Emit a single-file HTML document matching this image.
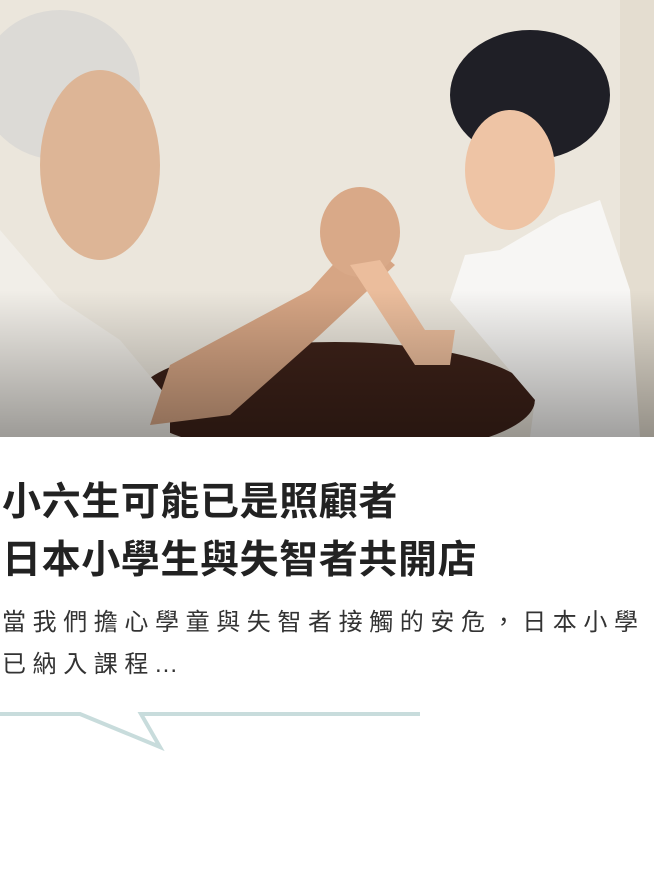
<!DOCTYPE html>
<html><head><meta charset="utf-8">
<style>
html,body{margin:0;padding:0;background:#fff;width:654px;height:870px;overflow:hidden}
.photo{position:absolute;left:0;top:0;width:654px;height:437px}
.title{position:absolute;left:2px;top:474px;margin:0;font-family:"Liberation Sans","Noto Sans CJK TC",sans-serif;font-weight:bold;font-size:39px;line-height:58px;letter-spacing:0.6px;color:#222}
.desc{position:absolute;left:2px;top:602px;margin:0;font-family:"Liberation Sans","Noto Sans CJK TC",sans-serif;font-size:24px;line-height:42px;letter-spacing:6.6px;color:#333;width:680px}
.bubble{position:absolute;left:0;top:700px}
</style></head><body>
<svg class="photo" viewBox="0 0 654 437" width="654" height="437">
<defs>
<linearGradient id="sh" x1="0" y1="0" x2="0" y2="1">
<stop offset="0" stop-color="#000" stop-opacity="0"/>
<stop offset="1" stop-color="#000" stop-opacity="0.35"/>
</linearGradient>
</defs>
<rect width="654" height="437" fill="#ebe6dc"/>
<rect x="620" y="0" width="34" height="437" fill="#e4ddd0"/>
<ellipse cx="335" cy="400" rx="200" ry="58" fill="#3e2219"/>
<ellipse cx="60" cy="85" rx="80" ry="75" fill="#dcdad6"/>
<ellipse cx="100" cy="165" rx="60" ry="95" fill="#ddb596"/>
<polygon points="0,230 60,300 120,340 170,400 170,437 0,437" fill="#f1eee8"/>
<polygon points="150,425 230,415 320,335 395,265 360,235 310,290 170,365" fill="#d6a584"/>
<ellipse cx="360" cy="232" rx="40" ry="45" fill="#d9a988"/>
<polygon points="350,265 380,260 425,330 455,330 450,365 415,365" fill="#ebbd9c"/>
<ellipse cx="530" cy="95" rx="80" ry="65" fill="#1f1f26"/>
<ellipse cx="510" cy="170" rx="45" ry="60" fill="#eec4a5"/>
<polygon points="500,250 560,215 600,200 630,290 640,437 530,437 535,400 450,300 465,255" fill="#f7f6f4"/>
<rect x="0" y="290" width="654" height="147" fill="url(#sh)"/>
</svg>
<h1 class="title">小六生可能已是照顧者<br>日本小學生與失智者共開店</h1>
<p class="desc">當我們擔心學童與失智者接觸的安危，日本小學<br>已納入課程<span style="letter-spacing:1px">...</span></p>
<svg class="bubble" width="654" height="60">
<polyline points="0,14 80,14 160,47 141,14 420,14" fill="none" stroke="#c8dcdc" stroke-width="4"/>
</svg>
</body></html>
